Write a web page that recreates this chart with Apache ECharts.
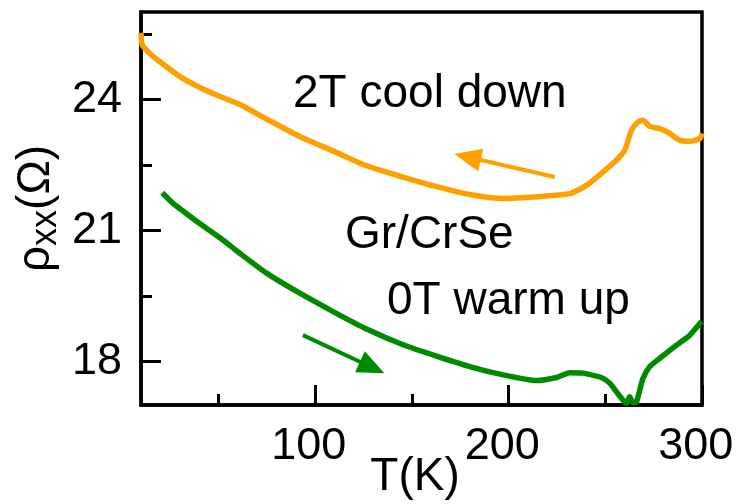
<!DOCTYPE html>
<html>
<head>
<meta charset="utf-8">
<title>Gr/CrSe resistivity vs temperature</title>
<script src="https://cdn.jsdelivr.net/npm/echarts@6/dist/echarts.min.js"></script>
<style>
  html, body { margin: 0; padding: 0; background: #fff; }
  #chart { width: 738px; height: 504px; }
</style>
</head>
<body>
<div id="chart"></div>
<script>
// 2T cool down: temperature (K) and longitudinal resistance (Ohm)
const tCool = [10, 10.7, 14.6, 19.8, 30.2, 40.5, 50, 61.2, 74.9, 92.1, 109.2, 126.6, 145.5, 162.8, 180.0, 197.2, 214.4, 231.6, 240.3, 248.9, 255.8, 260.1, 263.5, 266.9, 269.5, 273.0, 278.2, 283.3, 288.5, 293.7, 298.8, 300];
const rhoCool = [25.52, 25.24, 25.05, 24.86, 24.52, 24.27, 24.08, 23.88, 23.55, 23.15, 22.82, 22.48, 22.22, 22.00, 21.82, 21.73, 21.77, 21.84, 22.03, 22.34, 22.61, 22.84, 23.29, 23.48, 23.52, 23.38, 23.33, 23.22, 23.06, 23.04, 23.10, 23.22];

// 0T warm up
const tWarm = [21.0, 26.7, 33.6, 40.5, 50.8, 61.2, 74.9, 92.1, 109.3, 126.6, 145.5, 162.8, 180.0, 197.2, 214.4, 224.8, 231.6, 238.5, 245.4, 248.9, 252.3, 255.8, 259.2, 260.9, 262.6, 264.4, 266.1, 267.8, 269.5, 273.0, 278.2, 286.8, 293.7, 299.7];
const rhoWarm = [21.86, 21.61, 21.38, 21.15, 20.83, 20.47, 20.02, 19.56, 19.14, 18.74, 18.38, 18.12, 17.88, 17.69, 17.56, 17.63, 17.74, 17.73, 17.66, 17.61, 17.50, 17.30, 17.11, 17.04, 17.19, 17.05, 17.07, 17.34, 17.61, 17.88, 18.07, 18.37, 18.60, 18.91];

// Axis ranges and ticks
const xRange = [10, 300];
const yRange = [17, 26];
const xMajorTicks = [100, 200, 300];
const xMinorTicks = [50, 150, 250];
const xTickLabels = [100, 200, 300];
const yMajorTicks = [18, 21, 24];
const yMinorTicks = [19.5, 22.5, 25.5];
const yTickLabels = [18, 21, 24];

// Direction arrows: [tail, head] in data coordinates
const coolArrow = [[223.9, 22.22], [178.8, 22.68]];
const warmArrow = [[93.7, 18.60], [129.5, 17.86]];

const FONT = '"Liberation Sans", Arial, Helvetica, sans-serif';
const ORANGE = '#ffa000';
const GREEN = '#008a00';

const zip = (a, b) => a.map((v, i) => [v, b[i]]);

const gridRect = { left: 141, top: 12, width: 561, height: 393 };

const chart = echarts.init(document.getElementById('chart'), null, { renderer: 'canvas' });

chart.setOption({
  animation: false,
  backgroundColor: '#fff',
  grid: [
    Object.assign({ show: true, borderColor: '#000', borderWidth: 3.5, containLabel: false, outerBoundsMode: 'none' }, gridRect),
    Object.assign({ show: false, containLabel: false, outerBoundsMode: 'none' }, gridRect)
  ],
  xAxis: [
    {
      type: 'value', gridIndex: 0, min: xRange[0], max: xRange[1],
      name: 'T(K)', nameLocation: 'middle', nameGap: 49, nameMoveOverlap: false,
      nameTextStyle: { fontFamily: FONT, fontSize: 46, color: '#000', padding: [0, 13, 0, 0] },
      axisLine: { show: true, onZero: false, lineStyle: { color: '#000', width: 3.5 } },
      axisTick: { show: true, inside: true, length: 20, customValues: xMajorTicks, lineStyle: { color: '#000', width: 3 } },
      axisLabel: {
        show: true, customValues: xTickLabels, margin: 19, fontFamily: FONT, fontSize: 45, color: '#000',
        formatter: (v) => v + ' '
      },
      splitLine: { show: false }
    },
    {
      type: 'value', gridIndex: 1, min: xRange[0], max: xRange[1],
      axisLine: { show: false, onZero: false },
      axisTick: { show: true, inside: true, length: 11, customValues: xMinorTicks, lineStyle: { color: '#000', width: 3 } },
      axisLabel: { show: false },
      splitLine: { show: false }
    }
  ],
  yAxis: [
    {
      type: 'value', gridIndex: 0, min: yRange[0], max: yRange[1],
      name: '{m|ρ}{s|xx}{m|(Ω)}', nameLocation: 'middle', nameGap: 77, nameRotate: 90, nameMoveOverlap: false,
      nameTextStyle: {
        fontFamily: FONT, fontSize: 46, color: '#000',
        rich: {
          m: { fontFamily: FONT, fontSize: 46, lineHeight: 56, color: '#000' },
          s: { fontFamily: FONT, fontSize: 36, verticalAlign: 'bottom', color: '#000' }
        }
      },
      axisLine: { show: true, onZero: false, lineStyle: { color: '#000', width: 3.5 } },
      axisTick: { show: true, inside: true, length: 20, customValues: yMajorTicks, lineStyle: { color: '#000', width: 3 } },
      axisLabel: { show: true, customValues: yTickLabels, margin: 19, fontFamily: FONT, fontSize: 45, color: '#000' },
      splitLine: { show: false }
    },
    {
      type: 'value', gridIndex: 1, min: yRange[0], max: yRange[1],
      axisLine: { show: false, onZero: false },
      axisTick: { show: true, inside: true, length: 11, customValues: yMinorTicks, lineStyle: { color: '#000', width: 3 } },
      axisLabel: { show: false },
      splitLine: { show: false }
    }
  ],
  series: [
    {
      name: '2T cool down', type: 'line', xAxisIndex: 0, yAxisIndex: 0,
      data: zip(tCool, rhoCool), showSymbol: false, smooth: 0.2, clip: true,
      lineStyle: { color: ORANGE, width: 5.5 }, itemStyle: { color: ORANGE },
      markLine: {
        silent: true, symbol: ['none', 'triangle'], symbolSize: [23, 27],
        label: { show: false },
        lineStyle: { color: ORANGE, width: 4, type: 'solid' },
        data: [[{ coord: coolArrow[0] }, { coord: coolArrow[1] }]]
      }
    },
    {
      name: '0T warm up', type: 'line', xAxisIndex: 0, yAxisIndex: 0,
      data: zip(tWarm, rhoWarm), showSymbol: false, smooth: 0.2, clip: true,
      lineStyle: { color: GREEN, width: 5.5 }, itemStyle: { color: GREEN },
      markLine: {
        silent: true, symbol: ['none', 'triangle'], symbolSize: [23, 27],
        label: { show: false },
        lineStyle: { color: GREEN, width: 4, type: 'solid' },
        data: [[{ coord: warmArrow[0] }, { coord: warmArrow[1] }]]
      }
    }
  ],
  graphic: [
    { type: 'text', left: 293, top: 71, style: { text: '2T cool down', font: '46px ' + FONT, fill: '#000' } },
    { type: 'text', left: 345, top: 212, style: { text: 'Gr/CrSe', font: '46px ' + FONT, fill: '#000' } },
    { type: 'text', left: 387, top: 278, style: { text: '0T warm up', font: '46px ' + FONT, fill: '#000' } }
  ]
});
</script>
</body>
</html>
